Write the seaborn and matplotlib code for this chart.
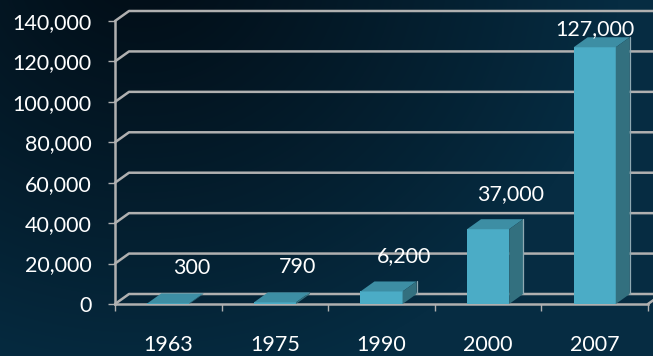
import numpy as np
import pandas as pd
import matplotlib
matplotlib.use("Agg")
import matplotlib.pyplot as plt
import seaborn as sns
from matplotlib.patches import Polygon
from matplotlib.lines import Line2D
from matplotlib.transforms import IdentityTransform

# ---- data ----
years = ["1963", "1975", "1990", "2000", "2007"]
values = [300, 790, 6200, 37000, 127000]
value_labels = ["300", "790", "6,200", "37,000", "127,000"]
y_ticks = [0, 20000, 40000, 60000, 80000, 100000, 120000, 140000]
y_tick_labels = ["0", "20,000", "40,000", "60,000", "80,000", "100,000", "120,000", "140,000"]

# ---- style ----
W, H, DPI = 653, 356, 100
FRONT = "#4bacc6"
TOP = "#3d8ea4"
SIDE = "#33707f"
GRID = "#b0b0b0"
DEPTH_X, DEPTH_Y = 14, 10        # 3-D depth offset in pixels
FONT = ["Lato", "DejaVu Sans"]
FS = 15.5

sns.set_style("white")
plt.rcParams["font.family"] = FONT

fig = plt.figure(figsize=(W / DPI, H / DPI), dpi=DPI)

# slide-style background gradient
bg = fig.add_axes([0, 0, 1, 1])
bg.set_axis_off()
yy, xx = np.mgrid[0:H, 0:W]
t = np.clip(np.hypot(xx - 140, (yy + 40) * 1.1) / 480, 0, 1) ** 1.1
dark = np.array([2, 13, 22]) / 255
light = np.array([6, 44, 66]) / 255
bg.imshow(dark + (light - dark) * t[..., None], extent=[0, W, H, 0], aspect="auto")
bg.set_xlim(0, W)
bg.set_ylim(H, 0)

# plotting area
left_px, right_px, top_px, bottom_px = 115, 648, 21, 304
ax = fig.add_axes([left_px / W, (H - bottom_px) / H,
                   (right_px - left_px) / W, (bottom_px - top_px) / H])
ax.set_facecolor("none")

df = pd.DataFrame({"year": years, "value": values})
sns.barplot(data=df, x="year", y="value", color=FRONT, saturation=1,
            width=0.395, ax=ax, zorder=3, linewidth=0)
ax.set_xlim(-0.5, len(years) - 0.5)
ax.set_ylim(0, 140000)

# axes styling
for s in ["top", "right"]:
    ax.spines[s].set_visible(False)
for s in ["left", "bottom"]:
    ax.spines[s].set_color(GRID)
    ax.spines[s].set_linewidth(1.8)
ax.set_yticks(y_ticks, y_tick_labels)
ax.tick_params(axis="y", colors=GRID, labelcolor="white", labelsize=FS,
               length=5, width=1, pad=12, left=True)
ax.set_xticks(range(len(years)), years)
ax.tick_params(axis="x", which="major", length=0, labelcolor="white",
               labelsize=FS, pad=22)
ax.set_xticks(np.arange(-0.5, len(years)), minor=True)
ax.tick_params(axis="x", which="minor", colors=GRID, length=5, width=1,
               bottom=True)
ax.set_xlabel("")
ax.set_ylabel("")

fig.canvas.draw()
to_px = ax.transData.transform
ident = IdentityTransform()

# back wall gridlines with their slanted joins to the value axis
x_left = to_px((-0.5, 0))[0]
x_right = to_px((len(years) - 0.5, 0))[0]
for v in y_ticks:
    y = to_px((0, v))[1]
    ax.add_line(Line2D([x_left, x_left + DEPTH_X, W * 1.05],
                       [y, y + DEPTH_Y, y + DEPTH_Y],
                       color=GRID, lw=1.8, transform=ident, clip_on=False,
                       zorder=1, solid_joinstyle="round"))
# right edge of the floor
y0 = to_px((0, 0))[1]
ax.add_line(Line2D([x_right, x_right + DEPTH_X], [y0, y0 + DEPTH_Y],
                   color=GRID, lw=1.8, transform=ident, clip_on=False, zorder=1))

# extrude the bars into 3-D blocks
for p in ax.patches:
    x0, x1 = p.get_x(), p.get_x() + p.get_width()
    X0, Yb = to_px((x0, 0))
    X1, Yt = to_px((x1, p.get_height()))
    top = Polygon([(X0, Yt), (X1, Yt), (X1 + DEPTH_X, Yt + DEPTH_Y),
                   (X0 + DEPTH_X, Yt + DEPTH_Y)], closed=True,
                  facecolor=TOP, edgecolor="none", transform=ident,
                  clip_on=False, zorder=4)
    side = Polygon([(X1, Yb), (X1, Yt), (X1 + DEPTH_X, Yt + DEPTH_Y),
                    (X1 + DEPTH_X, Yb + DEPTH_Y)], closed=True,
                   facecolor=SIDE, edgecolor="none", transform=ident,
                   clip_on=False, zorder=4)
    ax.add_patch(top)
    ax.add_patch(side)
    if p.get_height() > 5000:
        ax.add_line(Line2D([X1 + DEPTH_X, X1 + DEPTH_X], [Yb + DEPTH_Y, Yt + DEPTH_Y],
                           color="#8fa9b2", lw=0.9, transform=ident,
                           clip_on=False, zorder=4))

# value labels above each block, kept inside the chart area
for i, (v, lab) in enumerate(zip(values, value_labels)):
    X, Y = to_px((i, v))
    lx = min(X + 23, W - 58)
    ly = min(Y + 35, H - 29)
    ax.text(lx, ly, lab, transform=ident, color="white", fontsize=FS,
            ha="center", va="center", zorder=6, clip_on=False)

fig.savefig("out.png", dpi=DPI)
